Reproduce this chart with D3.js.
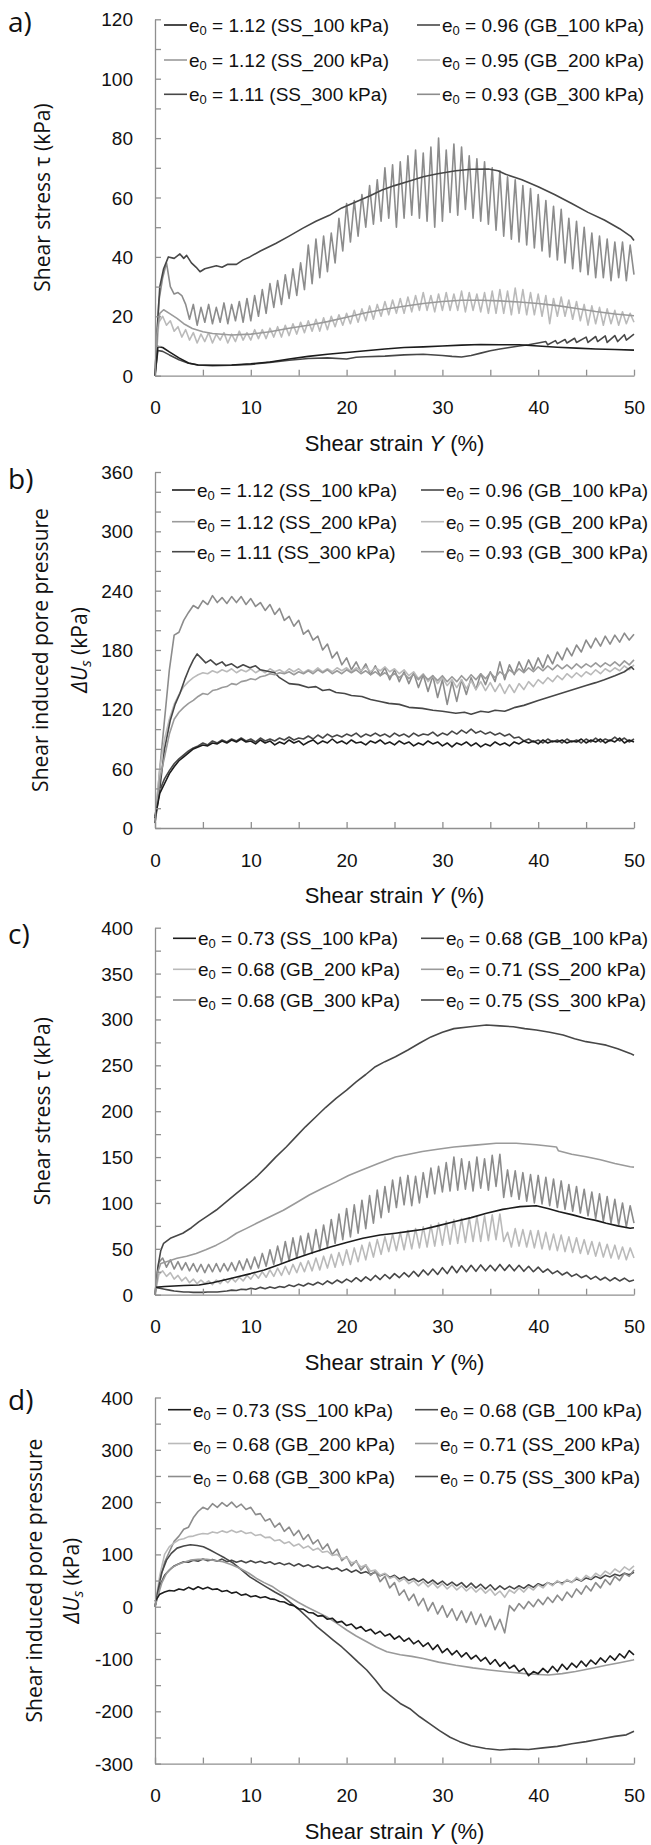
<!DOCTYPE html>
<html>
<head>
<meta charset="utf-8">
<script src="https://cdn.jsdelivr.net/npm/d3@7"></script>
<style>
  body { margin: 0; background: #fff; }
  svg { display: block; }
</style>
</head>
<body>
<svg id="chart" width="651" height="1845"></svg>
<script>
// ---- legend labels (order = legend order, col 1 then col 2) ----
const namesAB = ["1.12 (SS_100 kPa)", "1.12 (SS_200 kPa)", "1.11 (SS_300 kPa)",
                 "0.96 (GB_100 kPa)", "0.95 (GB_200 kPa)", "0.93 (GB_300 kPa)"];
const namesCD = ["0.73 (SS_100 kPa)", "0.68 (GB_200 kPa)", "0.68 (GB_300 kPa)",
                 "0.68 (GB_100 kPa)", "0.71 (SS_200 kPa)", "0.75 (SS_300 kPa)"];
const strainTicks = [0, 5, 10, 15, 20, 25, 30, 35, 40, 45, 50];

// ---- a) shear stress, loose samples ----  [strain, tau]
const aSS100 = [[0,0],[0.3,9.8],[0.8,9.5],[1.5,8],[2.5,6],[3.5,4.3],[4.5,3.6],[6,3.5],[8,3.6],[10,4],[12,4.6],[14,5.6],[16,6.5],[18,7.2],[20,7.8],[22,8.4],[24,9],[26,9.5],[28,9.7],[30,10],[32,10.3],[34,10.5],[36,10.4],[38,10.4],[40,10],[42,9.6],[44,9.3],[46,9],[48,8.8],[50,8.6]];
const aSS200 = [[0,0],[0.2,14],[0.5,21],[0.9,22.2],[1.5,21],[2.3,19.3],[3,17.5],[3.9,15.9],[5,14.8],[6,14.2],[8,13.7],[10,14],[12,14.8],[14,16],[16,17],[18,18.2],[20,19.7],[22,21.2],[24,22.4],[26,23.4],[28,24.3],[30,25],[32,25.4],[34,25.4],[36,25.2],[38,24.8],[40,24.3],[42,23.6],[44,22.6],[46,21.6],[48,20.8],[50,20.2]];
const aSS300 = [[0,0],[0.2,14],[0.5,30],[0.9,36],[1.4,40],[2,39.5],[2.6,41],[3,39.5],[3.3,40.5],[3.8,38],[4.3,36.5],[4.7,35],[5.2,36],[5.8,36.5],[6.4,37],[7,36.5],[7.6,37.5],[8.5,37.5],[9.2,39],[9.9,40],[11,42],[12.6,44.5],[14,47],[15.4,49.6],[16.8,52],[18.2,54],[19.5,56.5],[21,58.6],[22.4,60.5],[23.7,62.5],[25,64],[26.5,65.5],[28,67],[29.5,68],[31.4,69],[33,69.5],[34.8,69.6],[35.8,69],[36.6,67.8],[38.3,66],[40,63.6],[41.7,61],[43.5,58],[45.2,55],[46.9,52.4],[48.5,49.5],[49.7,46.8],[50,45.5]];
const aGB100 = [[0,0],[0.3,8.5],[0.8,8.2],[1.5,7],[2.5,5.4],[3.5,4.2],[4.5,3.6],[6,3.4],[8,3.5],[10,3.8],[12,4.5],[14,5.2],[16,5.8],[18,6],[20,5.6],[21,6.2],[22,6.4],[24,6.6],[26,7],[28,7.2],[30,6.8],[31,6.5],[32,6.3],[33,6.8],[34,7.6],[35,8.4],[36,9],[37,9.5],[38,10],[39,10.4],[40,11],[40.8,11.5],[41,10.4],[41.8,11.8],[42,10.8],[42.8,12.2],[43,11],[43.8,12.6],[44,11.2],[45,13],[45.2,11.2],[46,13.2],[46.2,11.5],[47,13.4],[47.2,11.2],[48,13.5],[48.3,11.5],[49,13.8],[49.2,12],[50,14]];
// evenly sampled over 0..50 % strain
const aGB200 = [0,18,20,17,18.5,15,16.5,13,15.5,12, 14.5,11,14,11.5,14.5,11,14,12,14.5,11,
  14,11.5,15,12,14.5,12,15.5,12.5,15.5,12.5, 16,13,16.5,13,17,13.5,17.5,14,18,14.5,
  18.5,15,19,15,19.5,15.5,20,16.5,20.5,17, 21,17.5,22,18,22.5,18.5,23.5,19,24,20,
  25,20.5,25.5,21,26,21,26.5,21.5,27,22, 28,22,27,21.5,27.5,22,28,22,27.5,22,
  28.5,21.5,28,22,27.5,21.5,28,21,28.5,21, 29,21,28.5,20.5,29.5,21,29,20.5,28,20.5,
  27.5,20,27,17.5,26,20,26.5,20,25.5,19, 25,18.5,24,17,23.5,17.5,23,17,22.5,17.5,
  22,17,21.5,17.5,21,18];
const aGB300 = [0,25,33,38,30,27.5,28,27,24,19, 24,17,23,18,24,17.5,23,18,24.5,17.5,
  24,18.5,25,18,26,18.5,27,20,29,21, 31,23,32,24,34,26,36,27,38,29,
  44,31,46,33,47,35,48,38,53,42, 58,45,59,47,61,50,64,51,66,52,
  70,53,71,50,72,53,74,54,76,53, 75,52,77,50,80,52,76,55,78,54,
  77,56,74,53,73,52,72,51,70,49, 69,47,67,46,66,45,64,44,63,43,
  61,42,59,40,57,39,56,38,53,36, 52,35,50,34,48,33,47,33,46,32,
  45,33,45,32,44,34];

// ---- b) pore pressure, loose samples ----
const bSS100 = [10,35,45,55,62,68,72,76,80,82, 84,83,86,85,88,86,89,87,90,87,
  88,85,89,86,88,84,87,85,89,86, 88,84,87,89,85,88,86,90,86,88,
  85,89,86,87,84,88,86,89,85,87, 84,88,85,87,83,86,84,88,85,87,
  83,86,82,86,84,87,83,86,82,85, 83,87,84,86,83,87,85,88,86,88,
  85,89,86,88,87,89,86,88,87,90, 86,89,87,90,86,89,87,91,86,89, 87];
const bSS200 = [8,50,72,95,110,117,122,126,129,133, 136,135,139,140,142,143,146,145,148,149,
  151,150,153,154,156,155,157,156,158,155, 158,156,159,156,160,157,160,156,159,156,
  160,157,160,156,159,155,158,154,157,153, 156,152,156,151,155,150,155,150,154,149,
  154,148,153,148,154,149,155,150,156,151, 157,152,158,154,160,156,161,157,162,158,
  163,159,164,160,165,161,165,161,166,162, 166,163,167,163,167,164,168,164,169,165, 170];
const bSS300 = [[0,5],[0.5,40],[1,80],[1.6,109],[2.1,125],[2.6,136],[3.1,150],[3.6,162],[4,170],[4.4,176],[4.8,172],[5.3,167],[5.8,170],[6.4,165],[7,168],[7.4,164],[8,166],[8.6,162],[9.2,165],[9.9,162],[10.5,164],[11,160],[12,158],[12.5,157],[13,152],[14,146],[15,145],[16,142],[16.8,143],[17.5,139],[18.2,140],[18.9,137],[19.8,136],[20.5,134],[21.6,133],[22.5,130],[23.5,128],[24.4,126],[25.5,125],[26.5,122],[27.9,121],[29,119],[30,118],[31.4,116],[32.3,117],[33,115],[34,118],[34.8,117],[35.5,119],[36.5,118],[37.6,122],[38.5,124],[40,129],[41,132],[42,135],[43.5,139.5],[45,144],[46,147],[46.9,150],[48,154],[49,158],[49.7,163],[50,160]];
const bGB100 = [12,38,50,58,65,70,74,78,81,83, 86,84,88,86,89,87,90,88,91,88,
  90,87,91,88,90,88,91,89,92,89, 91,90,93,90,94,91,95,92,94,92,
  95,93,96,92,95,93,96,93,95,92, 96,93,95,92,96,93,95,94,97,93,
  96,94,98,95,99,96,100,96,98,95, 97,94,96,93,95,91,92,88,90,87,
  89,86,90,87,89,86,90,87,89,86, 90,87,91,87,90,88,92,88,91,87, 90];
const bGB200 = [8,60,90,110,125,135,143,148,152,155, 157,156,159,157,160,158,161,157,160,158,
  161,157,160,157,161,158,160,157,161,158, 161,157,160,158,162,158,161,158,162,159,
  162,158,162,159,163,158,162,159,163,158, 161,156,160,154,158,151,156,148,154,146,
  152,144,150,142,150,141,149,140,148,139, 147,138,146,136,145,137,146,140,148,143,
  150,146,152,148,154,150,156,152,157,153, 158,155,160,156,161,158,162,159,164,160, 165];
const bGB300 = [5,60,110,160,195,198,210,218,225,222, 230,226,235,228,233,227,234,228,234,226,
  232,224,228,220,226,216,222,210,214,204, 210,196,200,190,194,180,186,172,178,165,
  172,160,168,158,166,155,164,154,162,150, 160,148,158,146,157,142,155,138,154,132,
  150,125,148,128,150,135,152,140,156,145, 158,148,168,150,165,155,168,158,170,160,
  172,162,175,166,178,170,182,174,185,178, 190,182,192,184,194,186,195,188,197,190, 196];

// ---- c) shear stress, dense samples ----
const cSS100 = [[0,8],[1,9],[2,9.5],[3,10],[4.6,10.5],[6,13],[8,18],[10,23],[11.4,27],[13,33],[14.8,40],[16.5,46],[18.3,52],[20,57],[21.7,61.5],[23.5,65],[25.1,67],[26.5,69],[27.9,71],[29.5,75],[31.2,79.6],[33,84],[34.6,88.7],[36.3,93],[38.1,96],[39.8,97],[41,94],[42.2,90.5],[43.6,87],[45,83],[46,81],[47.1,77.8],[48.3,75],[49.6,72.4],[50,73]];
const cSS200 = [[0,0],[0.3,25],[0.6,34],[1.2,36],[2.3,39.7],[3.3,42],[4.3,45],[5.3,49],[6.4,54],[7.5,60],[8.5,67],[9.5,72],[10.6,77.8],[12,85],[13.4,92],[14.7,100],[16.1,108.7],[17.5,116],[18.9,123],[20.2,130],[21.6,136],[23.3,143],[25.1,150],[26.5,153],[27.9,156],[29.5,158.5],[31.2,161],[33.4,163],[35.6,165],[37.7,165],[39.8,163.5],[41,162],[41.9,161],[42.1,157],[43.5,153],[45,150.4],[46.5,147],[48,143],[49.6,139.5],[50,139]];
const cSS300 = [[0,0],[0.3,30],[0.6,48],[0.9,56],[1.6,61.5],[2.9,67],[3.8,73],[4.6,79.6],[5.5,86],[6.4,92.3],[7.4,101],[8.5,110.5],[9.5,119],[10.6,128.6],[11.6,139],[12.6,150],[13.7,161],[14.7,172],[15.7,183],[16.8,194],[17.8,204],[18.9,214],[20,223],[21,232],[22,240],[23,248.5],[24,254],[25.1,259.4],[26.4,266.7],[27.6,274],[28.8,281],[30,286],[31.2,290],[32.9,292],[34.6,294],[36,293],[37.4,292],[38.6,290],[39.8,288.5],[41.2,286],[42.6,283],[43.8,279],[45,275.8],[46,274],[47.1,272],[48.3,268],[49.6,263],[50,261]];
const cGB100 = [8,7,6,5,4,3.5,3,3,2.5,2.5, 2.5,3,3,3,3.5,4,5,4.5,6,5.5,
  7,6,8,6.5,8.5,7,9,8,10.5,9, 11.5,9.5,12.5,10.5,13.5,11,15,12,16,13,
  17,14,18.5,14.5,19.5,15.5,21,16.5,22,17.5, 23,18.5,24,19.5,25.5,20,27,21.5,28,22,
  29.5,23,31,24,31.5,25,32,25.5,32.5,26, 32,26,33,26.5,32.5,26,32,25.5,31,25,
  30,24.5,28,23,26,21.5,24.5,20,22.5,18.5, 21,17,20,16,19,15,18.5,15,18,14.5, 16];
const cGB200 = [0,22,26,20,24,17,21,15,19,13, 17,12,16,12,15,11,16,12,17,13,
  18,14,19,15,21,17,23,18,25,19, 27,20,29,21,31,22,33,24,35,25,
  37,26,40,27,42,29,44,30,46,32, 49,33,51,36,54,38,57,41,60,44,
  63,47,66,48,68,49,70,50,72,51, 74,52,76,53,78,54,80,55,82,56,
  83,57,84,58,85,58,86,59,87,60, 88,58,68,52,72,53,71,52,70,51,
  70,50,68,49,66,48,65,47,63,46, 62,45,60,44,58,42,57,41,55,40,
  54,39,52,38,51,40];
const cGB300 = [0,35,40,30,38,28,36,27,35,26, 34,25,33,24,33,25,34,25,34,26,
  35,26,37,27,39,28,41,29,45,31, 49,33,53,35,58,37,62,40,64,43,
  67,45,71,48,76,52,82,56,88,60, 94,63,98,67,103,72,108,78,114,84,
  118,90,125,95,128,98,130,97,129,100, 133,106,138,110,140,112,144,113,150,114,
  148,115,145,113,150,116,148,114,152,118, 153,106,136,107,135,104,133,102,131,100,
  130,99,128,97,126,95,124,93,120,91, 118,89,115,86,112,83,110,80,107,78,
  104,76,100,74,97,78];

// ---- d) pore pressure, dense samples ----
const dSS100 = [10,24,28,31,30,34,32,37,33,38, 34,37,33,34,29,31,26,28,22,24,
  19,21,17,19,15,14,10,9,4,2, -4,-5,-11,-12,-18,-17,-24,-22,-30,-28,
  -36,-33,-42,-38,-47,-43,-52,-47,-56,-52, -62,-56,-66,-60,-71,-65,-76,-69,-82,-73,
  -88,-80,-92,-84,-96,-88,-100,-93,-104,-97, -110,-101,-114,-106,-118,-112,-124,-118,-132,-124,
  -128,-118,-126,-114,-124,-110,-120,-108,-116,-104, -114,-102,-110,-98,-106,-94,-102,-90,-98,-84, -92];
const dSS200 = [[0,0],[0.3,20],[0.7,45],[1.2,64],[1.7,74],[2.3,80],[3,85],[3.7,89],[4.5,90.5],[5.4,90.5],[6.2,88.5],[7.1,86],[8,80],[8.9,73],[9.8,64],[10.6,54],[11.4,46],[12.3,38],[13.1,28],[14,19],[14.9,9],[15.8,0],[16.8,-9],[17.9,-19],[19,-32],[20,-44.6],[21,-56],[22.1,-67],[23.1,-77],[24.2,-86],[25.6,-92],[26.8,-95],[28,-99],[29.6,-106],[31.4,-112],[33.2,-117],[34.9,-121],[36.6,-124.5],[38.4,-127.5],[40,-129.5],[41.1,-130.7],[42.5,-128],[43.9,-124],[45.5,-118],[47.1,-112],[48.5,-107],[49.9,-102],[50,-101]];
const dSS300 = [[0,0],[0.3,30],[0.7,65],[1.2,89],[1.7,102],[2.3,112],[3,116],[3.7,118.5],[4.4,117],[5.05,114.7],[5.7,109],[6.4,102],[7.3,93],[8.2,83],[9,71],[9.9,57],[10.7,48],[11.6,38],[12.5,28],[13.4,19],[14.2,7],[15.1,-6.4],[16,-22],[16.9,-38],[17.7,-50],[18.6,-63.7],[19.5,-77],[20.4,-92],[21.2,-106],[22.1,-121],[23,-140],[23.8,-159],[24.7,-172],[25.6,-185],[26.6,-195],[27.6,-210],[28.7,-224],[29.7,-237],[30.8,-249.6],[31.8,-258],[33,-266],[34.5,-271],[36,-274],[37.5,-272],[39,-273],[40.5,-270],[42,-267],[43.5,-262],[45,-258],[46.5,-253],[48,-248],[49.2,-245],[50,-238]];
const dGB100 = [0,40,60,70,78,82,86,85,89,87, 91,88,90,87,91,86,89,85,88,84,
  88,84,87,83,86,81,84,80,83,78, 82,77,80,75,78,73,76,71,74,68,
  72,66,70,64,67,62,66,59,63,56, 60,53,57,50,54,48,53,45,51,43,
  49,41,47,40,46,37,45,36,43,34, 42,32,40,33,39,34,40,35,42,37,
  44,40,46,42,48,45,50,47,53,49, 55,52,58,54,60,57,62,59,64,61, 66];
const dGB200 = [0,60,100,115,122,128,130,134,135,138, 140,139,143,141,145,142,146,142,145,140,
  142,136,138,132,133,126,128,121,124,116, 120,112,116,108,112,104,106,98,100,92,
  94,84,86,76,80,68,70,60,64,54, 58,48,54,44,50,40,48,38,46,36,
  44,34,42,32,40,30,38,28,36,26, 34,22,30,18,32,26,36,28,38,32,
  42,36,46,40,50,42,52,46,56,50, 60,54,64,58,68,62,72,66,76,70, 78];
const dGB300 = [0,50,85,105,125,135,148,152,170,182, 190,186,197,190,199,192,200,190,196,186,
  190,176,178,164,168,152,160,144,152,136, 146,128,138,120,128,110,120,100,110,88,
  96,78,88,70,80,60,68,48,58,36, 46,22,32,12,24,2,16,-8,8,-14,
  2,-20,-4,-26,-8,-30,-10,-34,-14,-38, -18,-44,-24,-50,2,-8,6,-4,10,0,
  14,4,18,8,22,12,28,18,34,24, 40,30,46,36,52,42,58,50,64,58, 70];

// evenly spaced samples -> [strain, value]
function spread(ys) {
  const n = ys.length - 1;
  return ys.map((v, i) => [i * 50 / n, v]);
}
function asPairs(s) { return Array.isArray(s[0]) ? s : spread(s); }

// line colours
const BLACK = "#1c1c1c", DARK = "#474747", MID = "#8c8c8c", MID2 = "#9a9a9a", LIGHT = "#bababa";

const panels = [
  { tag: "a)", tagY: 21, top: 19.3, bottom: 375.7, domain: [0, 120], minor: 10, major: 20,
    title: [{ text: "Shear stress τ (kPa)", x: 41.5 }],
    rows: [25, 60, 94.3], cols: [164, 417], names: namesAB,
    series: [aSS100, aSS200, aSS300, aGB100, aGB200, aGB300],
    colors: [BLACK, MID2, DARK, DARK, LIGHT, MID] },
  { tag: "b)", tagY: 478, top: 472, bottom: 828, domain: [0, 360], minor: 20, major: 60,
    title: [{ text: "Shear induced pore pressure", x: 39.5 }, { du: true, x: 79 }],
    rows: [490, 521.7, 551.7], cols: [172, 421], names: namesAB,
    series: [bSS100, bSS200, bSS300, bGB100, bGB200, bGB300],
    colors: [BLACK, MID2, DARK, DARK, LIGHT, MID] },
  { tag: "c)", tagY: 933, top: 927.7, bottom: 1294.7, domain: [0, 400], minor: 25, major: 50,
    title: [{ text: "Shear stress τ (kPa)", x: 41.5 }],
    rows: [938.3, 969.3, 1000], cols: [173, 421], names: namesCD,
    series: [cSS100, cGB200, cGB300, cGB100, cSS200, cSS300],
    colors: [BLACK, LIGHT, MID, DARK, MID2, DARK] },
  { tag: "d)", tagY: 1399, top: 1397.5, bottom: 1763.6, domain: [-300, 400], minor: 50, major: 100,
    title: [{ text: "Shear induced pore pressure", x: 33.5 }, { du: true, x: 71 }],
    rows: [1409.7, 1443.5, 1476.5], cols: [168, 415], names: namesCD,
    series: [dSS100, dGB200, dGB300, dGB100, dSS200, dSS300],
    colors: [BLACK, LIGHT, MID, DARK, MID2, DARK] }
];

const svg = d3.select("#chart");
const X0 = 155, X1 = 634;
const x = d3.scaleLinear().domain([0, 50]).range([X0, X1]);
const NUM_FONT = "'Liberation Sans', Arial, sans-serif";
const TITLE_FONT = "'Open Sans', 'Noto Sans', sans-serif";
const AXIS_COLOR = "#8f8f8f";

panels.forEach(p => {
  const y = d3.scaleLinear().domain(p.domain).range([p.bottom, p.top]);
  const g = svg.append("g");

  // series, sawtooth ones underneath
  const line = d3.line().x(d => x(d[0])).y(d => y(d[1]));
  const order = [5, 4, 3, 2, 1, 0].filter(i => p.names[i].includes("GB"))
    .concat([5, 4, 3, 2, 1, 0].filter(i => p.names[i].includes("SS")));
  order.forEach(i => {
    g.append("path")
      .attr("d", line(asPairs(p.series[i])))
      .attr("fill", "none")
      .attr("stroke", p.colors[i])
      .attr("stroke-width", 1.6)
      .attr("stroke-linejoin", "round");
  });

  // y axis
  const yTicks = d3.range(p.domain[0], p.domain[1] + 0.001, p.minor);
  g.append("g")
    .attr("transform", `translate(${X0},0)`)
    .call(d3.axisLeft(y).tickValues(yTicks).tickSizeInner(-6).tickSizeOuter(0).tickPadding(22)
      .tickFormat(d => (Math.abs(d % p.major) < 1e-9 ? d : "")))
    .call(a => a.selectAll("path, line").attr("stroke", AXIS_COLOR).attr("stroke-width", 1.3))
    .call(a => a.selectAll("text").attr("font-family", NUM_FONT).attr("font-size", 19)
      .attr("fill", "#111").attr("dy", null).attr("dominant-baseline", "central"));

  // x axis
  g.append("g")
    .attr("transform", `translate(0,${p.bottom})`)
    .call(d3.axisBottom(x).tickValues(strainTicks).tickSizeInner(-6).tickSizeOuter(0)
      .tickFormat(d => (d % 10 === 0 ? d : "")))
    .call(a => a.selectAll("path, line").attr("stroke", AXIS_COLOR).attr("stroke-width", 1.3))
    .call(a => a.selectAll("text").attr("font-family", NUM_FONT).attr("font-size", 19)
      .attr("fill", "#111").attr("y", 32).attr("dy", null).attr("dominant-baseline", "central"));

  // x title
  const xt = g.append("text")
    .attr("x", (X0 + X1) / 2).attr("y", p.bottom + 67)
    .attr("text-anchor", "middle").attr("dominant-baseline", "central")
    .attr("font-family", NUM_FONT).attr("font-size", 22).attr("fill", "#111");
  xt.append("tspan").text("Shear strain ");
  xt.append("tspan").attr("font-style", "italic").text("Y");
  xt.append("tspan").text(" (%)");

  // y title
  const cy = (p.top + p.bottom) / 2;
  p.title.forEach(t => {
    const tt = g.append("text")
      .attr("transform", `translate(${t.x},${cy}) rotate(-90)`)
      .attr("text-anchor", "middle").attr("dominant-baseline", "central")
      .attr("font-family", TITLE_FONT).attr("font-size", 21).attr("fill", "#111");
    if (t.du) {
      tt.append("tspan").attr("font-style", "italic").text("ΔU");
      tt.append("tspan").attr("font-style", "italic").attr("font-size", 15).attr("dy", 6).text("s");
      tt.append("tspan").attr("dy", -6).text(" (kPa)");
    } else {
      tt.text(t.text);
    }
  });

  // panel tag
  g.append("text").attr("x", 8).attr("y", p.tagY)
    .attr("dominant-baseline", "central")
    .attr("font-family", TITLE_FONT).attr("font-size", 28).attr("fill", "#111")
    .text(p.tag);

  // legend
  p.names.forEach((name, i) => {
    const lx = p.cols[Math.floor(i / 3)];
    const ly = p.rows[i % 3];
    g.append("line")
      .attr("x1", lx).attr("x2", lx + 23).attr("y1", ly).attr("y2", ly)
      .attr("stroke", p.colors[i]).attr("stroke-width", 1.6);
    const t = g.append("text")
      .attr("x", lx + 25).attr("y", ly)
      .attr("dominant-baseline", "central")
      .attr("font-family", NUM_FONT).attr("font-size", 19).attr("fill", "#111");
    t.append("tspan").text("e");
    t.append("tspan").attr("font-size", 13).attr("dy", 5).text("0");
    t.append("tspan").attr("dy", -5).text(" = " + name);
  });
});
</script>
</body>
</html>
